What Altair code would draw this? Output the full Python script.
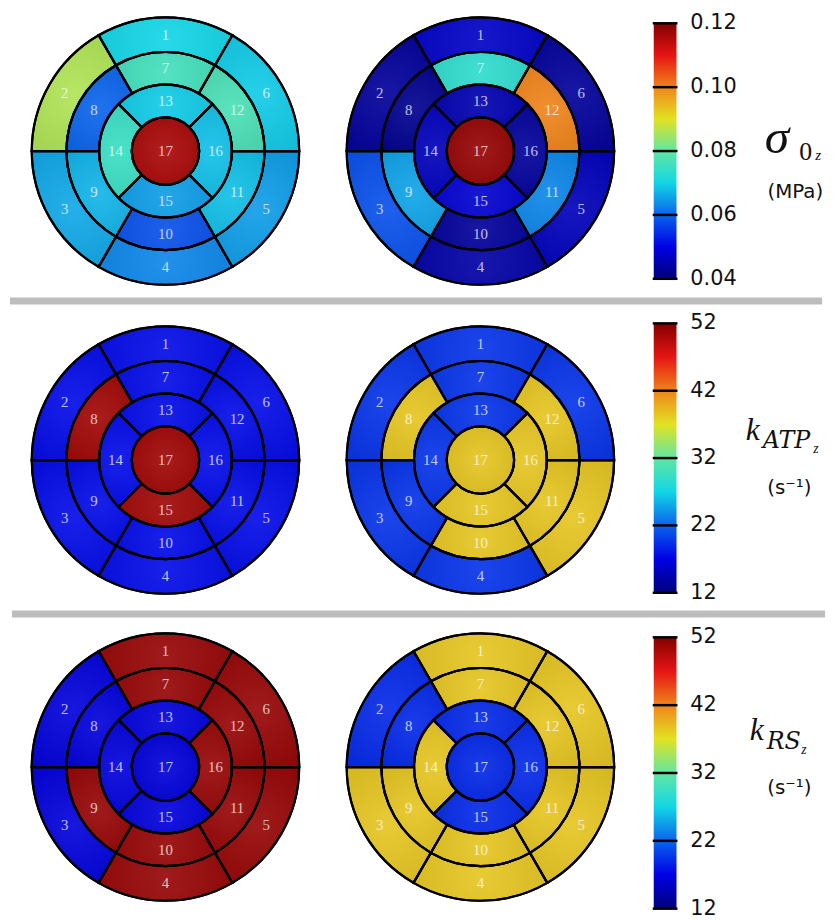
import altair as alt
import pandas as pd
import math

# ---------------- data (values read per AHA segment 1..17) ----------------
SEGMENTS = list(range(1, 18))

sigma_left = [0.070, 0.086, 0.066, 0.063, 0.065, 0.069, 0.076, 0.060, 0.067,
              0.058, 0.068, 0.077, 0.069, 0.075, 0.065, 0.068, 0.116]
sigma_right = [0.047, 0.043, 0.058, 0.044, 0.046, 0.043, 0.0735, 0.042, 0.0655,
               0.043, 0.063, 0.100, 0.045, 0.046, 0.048, 0.043, 0.118]

katp_left = [17.5, 17.5, 17.5, 17.5, 17.5, 17.5, 17.5, 50.5, 17.5,
             17.5, 17.5, 17.5, 17.5, 17.5, 50.5, 17.5, 50.5]
katp_right = [19.5, 19.5, 19.5, 19.5, 38.5, 19.5, 19.5, 38.5, 19.5,
              38.5, 38.5, 38.5, 19.5, 19.5, 38.5, 38.5, 38.5]

krs_left = [51.0, 16.5, 16.5, 51.0, 51.0, 51.0, 51.0, 16.5, 51.0,
            51.0, 51.0, 51.0, 16.5, 16.5, 16.5, 51.0, 16.5]
krs_right = [38.5, 19.0, 38.5, 38.5, 38.5, 38.5, 38.5, 19.0, 38.5,
             38.5, 38.5, 38.5, 19.0, 38.5, 19.0, 19.0, 19.0]

sigma_ticks = [0.04, 0.06, 0.08, 0.10, 0.12]
sigma_tick_labels = ["0.04", "0.06", "0.08", "0.10", "0.12"]
k_ticks = [12, 22, 32, 42, 52]
k_tick_labels = ["12", "22", "32", "42", "52"]

JET = ["#00007a", "#0000e6", "#0a64ec", "#12d6e6", "#62e6a2",
       "#e2e222", "#f0841a", "#e61414", "#820000"]

# ---------------- layout (chart pixel coordinates) ----------------
W, H = 831, 913
R_BOUNDS = [0, 34, 67, 100, 135]
COL_X = [159, 477]
ROW_Y = [140, 452, 762]
CB_X0, CB_X1 = 652, 675
CB_RANGES = [(269, 11), (586, 314), (905, 631)]


def seg_geom(s):
    if s <= 6:
        k = s - 1
        t0, t1 = 330 - 60 * k, 390 - 60 * k
        r0, r1 = R_BOUNDS[3], R_BOUNDS[4]
    elif s <= 12:
        k = s - 7
        t0, t1 = 330 - 60 * k, 390 - 60 * k
        r0, r1 = R_BOUNDS[2], R_BOUNDS[3]
    elif s <= 16:
        k = s - 13
        t0, t1 = 315 - 90 * k, 405 - 90 * k
        r0, r1 = R_BOUNDS[1], R_BOUNDS[2]
    else:
        t0, t1 = 0, 360
        r0, r1 = 0, R_BOUNDS[1]
    rm = 0 if s == 17 else (r0 + r1) / 2
    return (math.radians(t0), math.radians(t1), r0, r1,
            math.radians((t0 + t1) / 2), rm)


def seg_frame(values):
    rows = []
    for s, v in zip(SEGMENTS, values):
        t0, t1, r0, r1, tm, rm = seg_geom(s)
        rows.append(dict(seg=str(s), v=v, t0=t0, t1=t1, r0=r0, r1=r1, tm=tm, rm=rm))
    return pd.DataFrame(rows)


def color_scale(lo, hi):
    return alt.Scale(domain=[lo + i * (hi - lo) / 8 for i in range(9)],
                     range=JET, interpolate="rgb")


SHADE = alt.RadialGradient(
    gradient="radial", x1=0.5, y1=0.5, r1=0, x2=0.5, y2=0.5, r2=0.7,
    stops=[alt.GradientStop(color="white", offset=0),
           alt.GradientStop(color="black", offset=1)])


def bullseye(values, cx, cy, lo, hi):
    df = seg_frame(values)
    base = alt.Chart(df)
    geom = dict(
        x=alt.value(cx), y=alt.value(cy),
        theta=alt.Theta("t0:Q", scale=None, stack=None), theta2="t1:Q",
        radius=alt.Radius("r1:Q", scale=None), radius2="r0:Q",
    )
    arcs = base.mark_arc(stroke="black", strokeWidth=2.2).encode(
        color=alt.Color("v:Q", scale=color_scale(lo, hi), legend=None), **geom)
    shade = base.mark_arc(fill=SHADE, fillOpacity=0.09).encode(**geom)
    outline = base.mark_arc(fillOpacity=0, stroke="black", strokeWidth=2.2).encode(**geom)
    labels = base.mark_text(font="Liberation Serif", fontSize=15, fill="white",
                            opacity=0.72, baseline="middle", align="center").encode(
        x=alt.value(cx), y=alt.value(cy),
        theta=alt.Theta("tm:Q", scale=None, stack=None),
        radius=alt.Radius("rm:Q", scale=None),
        text="seg:N",
    )
    return [arcs, shade, outline, labels]


GRAD = alt.LinearGradient(
    gradient="linear", x1=0, y1=1, x2=0, y2=0,
    stops=[alt.GradientStop(color=c, offset=i / 8) for i, c in enumerate(JET)])


def colorbar(lo, hi, ticks, tick_labels, rng):
    ysc = alt.Scale(domain=[lo, hi], range=list(rng))
    bar = alt.Chart(pd.DataFrame({"lo": [lo], "hi": [hi]})).mark_rect(fill=GRAD).encode(
        x=alt.value(CB_X0), x2=alt.value(CB_X1),
        y=alt.Y("lo:Q", scale=ysc, axis=None), y2="hi:Q")
    tdf = pd.DataFrame({"tick": ticks, "label": tick_labels})
    rules = alt.Chart(tdf).mark_rule(color="black", strokeWidth=2.5).encode(
        x=alt.value(CB_X0 - 1), x2=alt.value(CB_X1 + 1),
        y=alt.Y("tick:Q", scale=ysc, axis=None))
    texts = alt.Chart(tdf).mark_text(align="left", baseline="middle", font="DejaVu Sans",
                                     fontSize=21, color="#111").encode(
        x=alt.value(689), y=alt.Y("tick:Q", scale=ysc, axis=None), text="label:N")
    return [bar, rules, texts]


one = pd.DataFrame({"a": [0]})


def sep(x0, x1, y0, y1):
    return alt.Chart(one).mark_rect(color="#bdbdbd").encode(
        x=alt.value(x0), x2=alt.value(x1), y=alt.value(y0), y2=alt.value(y1))


def txt(s, x, y, size, font="Liberation Serif", style="italic", align="left"):
    return alt.Chart(one).mark_text(text=s, font=font, fontSize=size, fontStyle=style,
                                    align=align, baseline="alphabetic", color="#111").encode(
        x=alt.value(x), y=alt.value(y))


layers = []
rows = [(sigma_left, sigma_right, 0.04, 0.12, sigma_ticks, sigma_tick_labels),
        (katp_left, katp_right, 12, 52, k_ticks, k_tick_labels),
        (krs_left, krs_right, 12, 52, k_ticks, k_tick_labels)]
for i, (lv, rv, lo, hi, tk, tl) in enumerate(rows):
    layers += bullseye(lv, COL_X[0], ROW_Y[i], lo, hi)
    layers += bullseye(rv, COL_X[1], ROW_Y[i], lo, hi)
    layers += colorbar(lo, hi, tk, tl, CB_RANGES[i])

layers += [sep(2, 822, 288, 295), sep(4, 825, 604, 611)]

# axis-like labels on the right
layers += [
    txt("σ", 764, 142, 50),
    txt("0", 799, 149, 26, style="normal"),
    txt("z", 815, 149, 15),
    txt("(MPa)", 795, 187, 20, font="DejaVu Sans", style="normal", align="center"),
    txt("k", 745, 432, 32),
    txt("ATP", 762, 440, 24, font="DejaVu Serif"),
    txt("z", 813, 445, 14),
    txt("(s⁻¹)", 789, 486, 20, font="DejaVu Sans", style="normal", align="center"),
    txt("k", 749, 735, 32),
    txt("RS", 766, 744, 24, font="DejaVu Serif"),
    txt("z", 801, 749, 14),
    txt("(s⁻¹)", 789, 789, 20, font="DejaVu Sans", style="normal", align="center"),
]

chart = alt.layer(*layers).resolve_scale(color="independent", y="independent").properties(
    width=W, height=H, autosize=alt.AutoSizeParams(type="none"), padding=0
).configure_view(stroke=None)

chart.save("out.html", embed_options={"renderer": "svg", "actions": False})
